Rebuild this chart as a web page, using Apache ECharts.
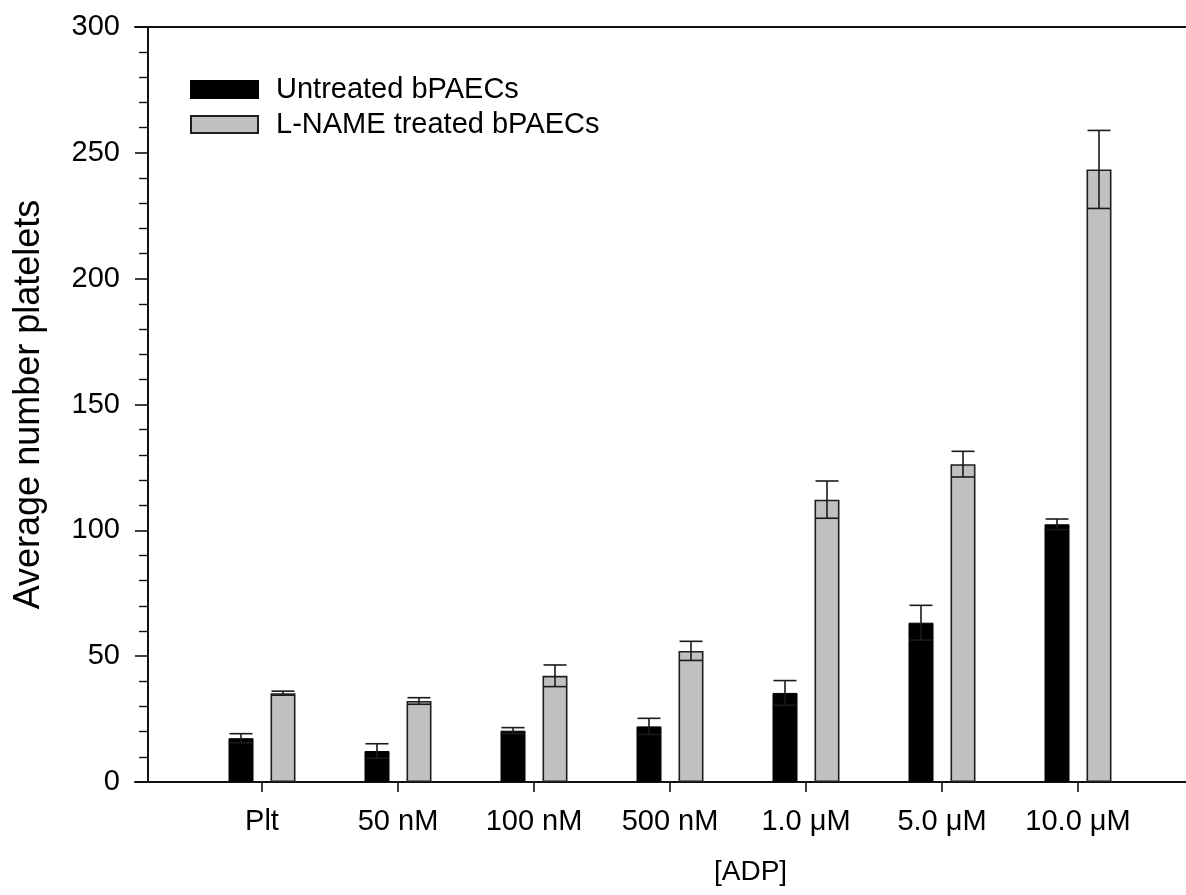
<!DOCTYPE html>
<html><head><meta charset="utf-8">
<script src="https://cdn.jsdelivr.net/npm/echarts@6/dist/echarts.min.js"></script>
<style>html,body{margin:0;padding:0;background:#fff}#c{width:1186px;height:895px}</style>
</head><body><div id="c"></div>
<script>
const categories = ['Plt', '50 nM', '100 nM', '500 nM', '1.0 \u03bcM', '5.0 \u03bcM', '10.0 \u03bcM'];
const untreated = [17.4, 12.3, 20.4, 22.1, 35.4, 63.3, 102.4];
const untreatedErr = [1.8, 2.9, 1.2, 3.2, 4.9, 6.9, 2.1];
const lname = [35.3, 32.2, 42.2, 52.1, 112.2, 126.3, 243.4];
const lnameErr = [0.8, 1.3, 4.3, 3.8, 7.4, 5.1, 15.5];
const yTicks = [0, 50, 100, 150, 200, 250, 300];

const FONT = '"Liberation Sans", Arial, sans-serif';
const BAR_W = 25, BAR_GAP = 17;
const OFF = (BAR_W + BAR_GAP) / 2;

function errSeries(name, vals, errs, dir) {
  return {
    type: 'custom', name: name + ' err', z: 5, silent: true,
    xAxisIndex: 0, yAxisIndex: 0,
    data: vals.map((v, i) => [i, v, errs[i]]),
    renderItem: function (params, api) {
      const i = api.value(0), v = api.value(1), e = api.value(2);
      const t = api.coord([i, v + e]);
      const b = api.coord([i, v - e]);
      const x = t[0] + dir * OFF;
      const hw = 11.5;
      const st = { stroke: '#1a1a1a', lineWidth: 1.6 };
      return { type: 'group', children: [
        { type: 'line', shape: { x1: x, y1: t[1], x2: x, y2: b[1] }, style: st },
        { type: 'line', shape: { x1: x - hw, y1: t[1], x2: x + hw, y2: t[1] }, style: st },
        { type: 'line', shape: { x1: x - hw, y1: b[1], x2: x + hw, y2: b[1] }, style: st }
      ]};
    }
  };
}

const chart = echarts.init(document.getElementById('c'));
chart.setOption({
  animation: false,
  backgroundColor: '#fff',
  textStyle: { fontFamily: FONT },
  title: {
    text: '[ADP]', left: 714, top: 858, padding: 0,
    textStyle: { fontFamily: FONT, fontSize: 28, fontWeight: 'normal', color: '#000' }
  },
  legend: {
    orient: 'vertical', left: 190, top: 75,
    itemWidth: 67, itemHeight: 17, itemGap: 6, icon: 'rect', padding: 0,
    textStyle: { fontFamily: FONT, fontSize: 29, lineHeight: 29, color: '#000', padding: [0, 0, 0, 13] },
    data: ['Untreated bPAECs', 'L-NAME treated bPAECs']
  },
  grid: [
    { left: 194, right: 40, top: 27, bottom: 113 },
    { left: 135, right: 0, top: 27, bottom: 113 }
  ],
  xAxis: [
    {
      type: 'category', gridIndex: 0, data: categories,
      axisLine: { show: false },
      axisTick: { show: true, alignWithLabel: true, inside: false, length: 10, lineStyle: { color: '#111', width: 1.6 } },
      axisLabel: { margin: 25, fontSize: 29, color: '#000', fontFamily: FONT, interval: 0 },
      splitLine: { show: false }
    },
    {
      type: 'value', gridIndex: 1, position: 'bottom', min: 0, max: 1,
      axisLine: { show: true, onZero: false, lineStyle: { color: '#111', width: 2 } },
      axisTick: { show: false }, axisLabel: { show: false }, splitLine: { show: false }
    },
    {
      type: 'value', gridIndex: 1, position: 'top', min: 0, max: 1,
      axisLine: { show: true, onZero: false, lineStyle: { color: '#111', width: 2 } },
      axisTick: { show: false }, axisLabel: { show: false }, splitLine: { show: false }
    }
  ],
  yAxis: [
    {
      type: 'value', gridIndex: 0, min: yTicks[0], max: yTicks[yTicks.length - 1], interval: 50,
      offset: 46,
      name: 'Average number platelets', nameLocation: 'middle', nameGap: 101,
      nameTextStyle: { fontFamily: FONT, fontSize: 36, color: '#000' },
      axisLine: { show: true, lineStyle: { color: '#111', width: 2 } },
      axisTick: { show: true, length: 13, lineStyle: { color: '#111', width: 1.6 } },
      minorTick: { show: true, splitNumber: 5, length: 9, lineStyle: { color: '#111', width: 1.4 } },
      axisLabel: { margin: 28, fontSize: 29, color: '#000', fontFamily: FONT },
      splitLine: { show: false }
    },
    {
      type: 'value', gridIndex: 1, min: 0, max: 1, show: false
    }
  ],
  series: [
    {
      name: 'Untreated bPAECs', type: 'bar', xAxisIndex: 0, yAxisIndex: 0,
      data: untreated, barWidth: BAR_W, barGap: (BAR_GAP / BAR_W * 100) + '%',
      itemStyle: { color: '#000', borderColor: '#000', borderWidth: 1 }
    },
    {
      name: 'L-NAME treated bPAECs', type: 'bar', xAxisIndex: 0, yAxisIndex: 0,
      data: lname, barWidth: BAR_W,
      itemStyle: { color: '#c0c0c0', borderColor: '#1e1e1e', borderWidth: 1.6 }
    },
    errSeries('Untreated bPAECs', untreated, untreatedErr, -1),
    errSeries('L-NAME treated bPAECs', lname, lnameErr, 1)
  ]
});
</script>
</body></html>
